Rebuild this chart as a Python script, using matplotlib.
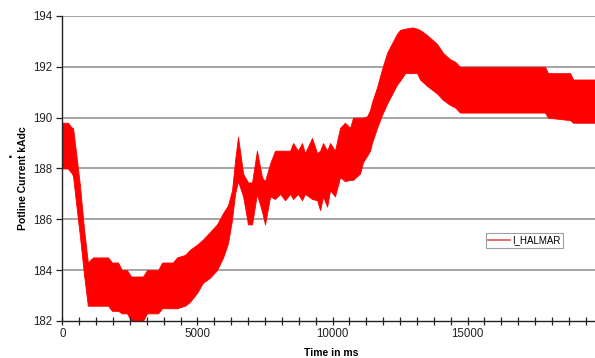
import matplotlib.pyplot as plt
from matplotlib.lines import Line2D
from matplotlib.ticker import MultipleLocator

# Lecturas aproximadas de la envolvente de la señal (tiempo en ms, kA)
time_ms = [0, 200, 350, 390, 540, 650, 800, 940, 1130, 1390, 1690, 1830, 2060,
           2200, 2390, 2540, 2980, 3130, 3540, 3690, 4090, 4240, 4540, 4720,
           4980, 5200, 5460, 5720, 5950, 6130, 6280, 6390, 6500, 6690, 6870,
           7020, 7200, 7390, 7500, 7690, 7870, 8060, 8240, 8430, 8540, 8720,
           8870, 8980, 9240, 9430, 9540, 9650, 9800, 9910, 10090, 10280, 10460,
           10650, 10760, 11020, 11130, 11280, 11390, 11460, 11650, 11830, 12020,
           12240, 12390, 12500, 12690, 12950, 13130, 13240, 13500, 13870, 14090,
           14350, 14540, 14720, 16200, 17870, 17980, 18800, 18910, 19720]

upper_kA = [189.8, 189.8, 189.6, 189.6, 188.3, 187.3, 185.6, 184.3, 184.5, 184.5,
            184.5, 184.3, 184.3, 184.0, 184.0, 183.75, 183.75, 184.0, 184.0,
            184.3, 184.3, 184.5, 184.6, 184.8, 185.0, 185.2, 185.5, 185.8, 186.25,
            186.55, 187.15, 188.3, 189.25, 187.8, 187.45, 187.45, 188.7, 187.65,
            187.5, 188.2, 188.7, 188.7, 188.7, 188.7, 189.0, 188.7, 189.0, 188.6,
            189.2, 188.6, 188.7, 189.0, 188.7, 189.0, 188.7, 189.6, 189.8, 189.6,
            190.0, 190.0, 190.0, 190.05, 190.3, 190.6, 191.2, 191.9, 192.55, 193.0,
            193.3, 193.45, 193.5, 193.55, 193.5, 193.45, 193.25, 192.9, 192.55,
            192.3, 192.2, 192.0, 192.0, 192.0, 191.75, 191.75, 191.5, 191.5]

lower_kA = [188.0, 188.0, 187.8, 187.7, 186.3, 185.3, 183.8, 182.6, 182.6, 182.6,
            182.6, 182.4, 182.4, 182.3, 182.3, 182.0, 182.0, 182.3, 182.3, 182.5,
            182.5, 182.5, 182.6, 182.75, 183.1, 183.5, 183.7, 184.0, 184.5, 185.06,
            186.0, 187.0, 187.5, 186.9, 185.8, 185.8, 187.0, 186.3, 185.8, 186.9,
            186.8, 187.0, 186.75, 187.0, 186.8, 187.0, 186.75, 187.0, 186.8,
            186.75, 186.36, 186.9, 186.5, 187.15, 186.9, 187.66, 187.5, 187.55,
            187.55, 187.8, 188.25, 188.5, 188.7, 189.0, 189.6, 190.1, 190.55, 191.0,
            191.3, 191.45, 191.75, 191.75, 191.75, 191.5, 191.25, 190.95, 190.7,
            190.5, 190.4, 190.2, 190.2, 190.2, 190.0, 189.9, 189.8, 189.8]

y_ticks = [182, 184, 186, 188, 190, 192, 194]
x_ticks = [0, 5000, 10000, 15000]

plt.rcParams['font.family'] = ['Liberation Sans', 'DejaVu Sans']

fig = plt.figure(figsize=(5.95, 3.58), dpi=100)
ax = fig.add_axes([0.105, 0.1034, 0.895, 0.852])

# Señal: área roja entre envolventes
ax.fill_between(time_ms, lower_kA, upper_kA, color='#ff0000', lw=0.6)

ax.set_xlim(0, 19720)
ax.set_ylim(182, 194)
ax.set_yticks(y_ticks)
ax.set_xticks(x_ticks)
ax.xaxis.set_minor_locator(MultipleLocator(625))

for y in y_ticks[1:]:
    ax.axhline(y, color='#8c8c8c', lw=1.1, zorder=0)

for s in ['top', 'right']:
    ax.spines[s].set_visible(False)
for s in ['left', 'bottom']:
    ax.spines[s].set_color('#222222')
    ax.spines[s].set_linewidth(1.0)

ax.tick_params(axis='y', direction='out', length=4, width=0.9, labelsize=8.3,
               colors='#222222', pad=3)
ax.tick_params(axis='x', which='both', direction='inout', length=6, width=0.9,
               labelsize=8.3, colors='#222222', pad=2)

ax.set_ylabel('Potline Current kAdc', fontsize=7.5, fontweight='bold')
ax.set_xlabel('Time in ms', fontsize=7.5, fontweight='bold')
ax.xaxis.set_label_coords(0.505, -0.087)
ax.yaxis.set_label_coords(-0.064, 0.47)

fig.text(10 / 595, 1 - 156 / 358, '■', fontsize=3.5, color='black', ha='center',
         va='center')

handle = Line2D([], [], color='#e05555', lw=1.2)
leg = ax.legend([handle], ['I_HALMAR'], loc='upper left',
                bbox_to_anchor=(0.795, 0.289), fontsize=7, frameon=True,
                fancybox=False, handlelength=2.2, handletextpad=0.3,
                borderpad=0.25, borderaxespad=0)
leg.get_frame().set_edgecolor('#888888')
leg.get_frame().set_linewidth(0.8)

plt.savefig('out.png', dpi=100)
